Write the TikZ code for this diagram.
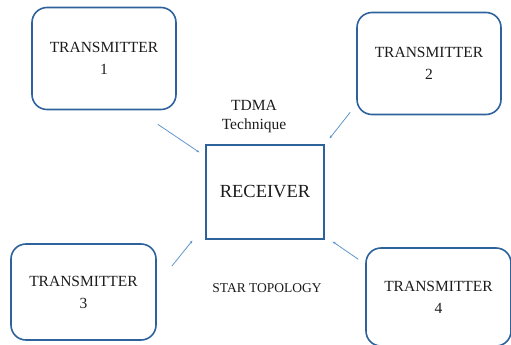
\documentclass[tikz,border=0pt]{standalone}
\usepackage{fontspec}
\setmainfont{Liberation Serif}
\usepackage{tikz}
\usetikzlibrary{arrows.meta,calc}
\definecolor{ink}{RGB}{28,28,28}
\definecolor{boxblue}{RGB}{46,98,156}
\definecolor{linkblue}{RGB}{96,150,205}
\tikzset{
  txbox/.style={draw=boxblue,line width=1.6pt,rounded corners=15pt,align=center,text=ink,
    font=\fontsize{15.5}{22}\selectfont,minimum width=144pt,minimum height=102pt,inner sep=0pt},
  rxbox/.style={draw=boxblue,line width=1.3pt,text=ink,font=\fontsize{18.5}{22}\selectfont,
    minimum width=118pt,minimum height=94pt,inner sep=0pt},
  link/.style={draw=linkblue,line width=0.8pt,-{Stealth[length=3pt,width=2.6pt]}}
}

\begin{document}
\begin{tikzpicture}[x=1pt,y=-1pt]
\useasboundingbox (0,0) rectangle (511,345);
\clip (0,0) rectangle (511,345);
% the receiver
\node[rxbox] (rx) at (265,192) {RECEIVER};
% the four transmitters
\node[txbox] (t1) at (104,58.5) {TRANSMITTER\\1};
\node[txbox] (t2) at (429,63.5) {TRANSMITTER\\2};
\node[txbox,minimum width=145pt,minimum height=96pt] (t3) at (83.5,292) {TRANSMITTER\\3};
\node[txbox,minimum width=145pt,minimum height=98pt] (t4) at (438.5,297) {TRANSMITTER\\4};
% labels
\node[align=center,text=ink,font=\fontsize{15.5}{19}\selectfont] (tdma) at (254,117) {TDMA\\Technique};
\node[text=ink,font=\fontsize{13.5}{16}\selectfont] (star) at (267,288) {STAR TOPOLOGY};
% links
\draw[link] ($(t1.south east)+(-19,14)$) -- ($(rx.north west)+(-6,8)$);
\draw[link] ($(t2.south west)+(-6,-3)$) -- ($(rx.north east)+(5,-6)$);
\draw[link] ($(t3.north east)+(15,23)$) -- ($(rx.south west)+(-13,1)$);
\draw[link] ($(t4.north west)+(-7,12)$) -- ($(rx.south east)+(8,2)$);
\end{tikzpicture}
\end{document}
